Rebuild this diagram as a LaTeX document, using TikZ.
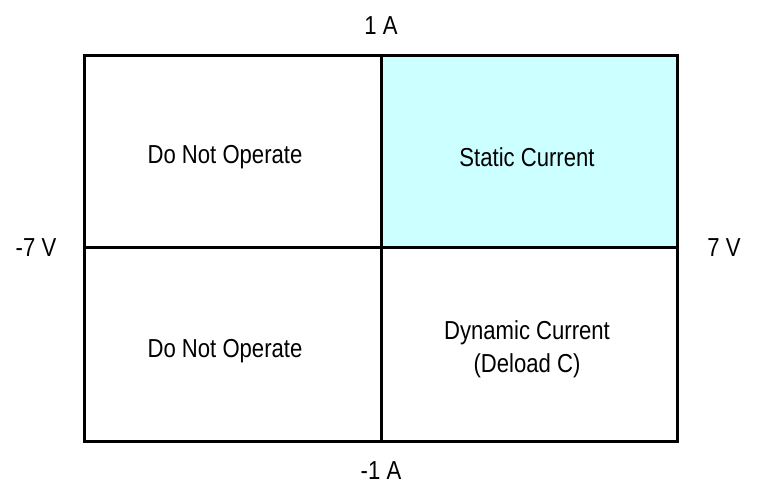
\documentclass[tikz,border=0pt]{standalone}
\usepackage{fontspec}
\setmainfont[FakeStretch=0.85]{Liberation Sans}
\definecolor{cellcyan}{HTML}{CCFFFF}
\begin{document}
\begin{tikzpicture}[x=1pt,y=-1pt,
  gridline/.style={line width=3pt},
  lbl/.style={font=\fontsize{26}{31}\selectfont, inner sep=0pt, anchor=center}]
\useasboundingbox (0,0) rectangle (775,495);
\fill[cellcyan] (381,55) rectangle (677,247);
\draw[gridline] (84,55) rectangle (677,441);
\draw[gridline] (381,55) -- (381,441);
\draw[gridline] (84,247) -- (677,247);
\node[lbl] (tl) at (225,157) {Do Not Operate};
\node[lbl] (tr) at (527,157) {Static Current};
\node[lbl] (bl) at (225,351) {Do Not Operate};
\node[lbl, align=center, font=\fontsize{26}{33}\selectfont] (br) at (527,349) {Dynamic Current\\(Deload C)};
\node[lbl] (top) at (381,26) {1 A};
\node[lbl] (bot) at (381,471) {-1 A};
\node[lbl] (lft) at (36,248) {-7 V};
\node[lbl] (rgt) at (724,248) {7 V};
\end{tikzpicture}
\end{document}
